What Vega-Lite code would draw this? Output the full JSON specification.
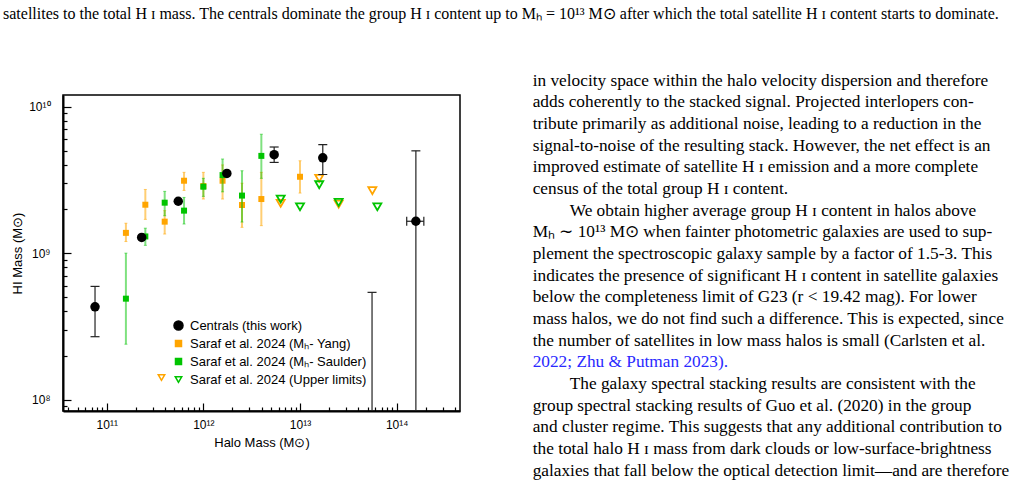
{
  "$schema": "https://vega.github.io/schema/vega-lite/v6.json",
  "background": "white",
  "padding": {"left": 3, "top": 5, "right": 0, "bottom": 0},
  "title": {
    "text": "satellites to the total H ɪ mass. The centrals dominate the group H ɪ content up to Mₕ = 10¹³ M⊙ after which the total satellite H ɪ content starts to dominate.",
    "anchor": "start", "frame": "group", "dx": -60, "offset": 50,
    "font": "Liberation Serif", "fontSize": 16, "fontWeight": "normal", "color": "black"
  },
  "bounds": "flush",
  "spacing": 72.7,
  "hconcat": [
    {
      "width": 397,
      "height": 316,
      "view": {"stroke": "black", "strokeWidth": 1.5},
      "data": {
        "values": [
          {"g": "Y", "x": 1.58e11, "y": 1.375e9, "lo": 1.2e9, "hi": 1.6e9},
          {"g": "Y", "x": 2.51e11, "y": 2.14e9, "lo": 1.7e9, "hi": 2.72e9},
          {"g": "Y", "x": 3.98e11, "y": 1.64e9, "lo": 1.35e9, "hi": 1.95e9},
          {"g": "Y", "x": 6.31e11, "y": 3.12e9, "lo": 2.68e9, "hi": 3.56e9},
          {"g": "Y", "x": 1e12, "y": 2.87e9, "lo": 2.34e9, "hi": 3.56e9},
          {"g": "Y", "x": 1.58e12, "y": 3.12e9, "lo": 2.34e9, "hi": 4.0e9},
          {"g": "Y", "x": 2.51e12, "y": 2.13e9, "lo": 1.5e9, "hi": 3.0e9},
          {"g": "Y", "x": 3.98e12, "y": 2.34e9, "lo": 1.54e9, "hi": 3.56e9},
          {"g": "Y", "x": 1e13, "y": 3.32e9, "lo": 2.57e9, "hi": 4.27e9},
          {"g": "S", "x": 1.58e11, "y": 4.89e8, "lo": 2.39e8, "hi": 1e9},
          {"g": "S", "x": 2.51e11, "y": 1.3e9, "lo": 1.13e9, "hi": 1.48e9},
          {"g": "S", "x": 3.98e11, "y": 2.21e9, "lo": 1.8e9, "hi": 2.64e9},
          {"g": "S", "x": 6.31e11, "y": 1.95e9, "lo": 1.58e9, "hi": 2.4e9},
          {"g": "S", "x": 1e12, "y": 2.84e9, "lo": 2.44e9, "hi": 3.24e9},
          {"g": "S", "x": 1.58e12, "y": 3.41e9, "lo": 2.62e9, "hi": 4.39e9},
          {"g": "S", "x": 2.51e12, "y": 2.47e9, "lo": 1.63e9, "hi": 3.65e9},
          {"g": "S", "x": 3.98e12, "y": 4.61e9, "lo": 3.24e9, "hi": 6.48e9},
          {"g": "UY", "x": 6.31e12, "y": 2.19e9},
          {"g": "UY", "x": 1.58e13, "y": 3.24e9},
          {"g": "UY", "x": 2.51e13, "y": 2.16e9},
          {"g": "UY", "x": 5.6e13, "y": 2.67e9},
          {"g": "US", "x": 6.31e12, "y": 2.34e9},
          {"g": "US", "x": 1e13, "y": 2.07e9},
          {"g": "US", "x": 1.58e13, "y": 2.93e9},
          {"g": "US", "x": 2.51e13, "y": 2.22e9},
          {"g": "US", "x": 6.31e13, "y": 2.07e9},
          {"g": "C", "x": 7.57e10, "y": 4.3e8, "lo": 2.69e8, "hi": 5.93e8},
          {"g": "C", "x": 2.3e11, "y": 1.28e9},
          {"g": "C", "x": 5.5e11, "y": 2.26e9},
          {"g": "C", "x": 1.75e12, "y": 3.5e9},
          {"g": "C", "x": 5.4e12, "y": 4.7e9, "lo": 4.16e9, "hi": 5.3e9},
          {"g": "C", "x": 1.72e13, "y": 4.47e9, "lo": 3.44e9, "hi": 5.5e9},
          {"g": "C", "x": 1.58e14, "y": 1.65e9, "lo": 1e7, "hi": 4.99e9, "xlo": 1.27e14, "xhi": 1.91e14},
          {"g": "C", "x": 5.56e13, "lo": 1e7, "hi": 5.4e8}
        ]
      },
      "resolve": {"scale": {"shape": "independent", "fill": "independent", "stroke": "independent"}},
      "layer": [
        {
          "transform": [{"filter": "datum.g == 'Y'"}],
          "mark": {"type": "rule", "color": "#ffa500", "opacity": 0.55, "strokeWidth": 2, "clip": true},
          "encoding": {
            "x": {"field": "x", "type": "quantitative", "scale": {"type": "log", "domain": [3.53e10, 4.52e14], "nice": false}, "title": "Halo Mass (M⊙)",
              "axis": {
                "values": [4e10, 5e10, 6e10, 7e10, 8e10, 9e10, 1e11, 2e11, 3e11, 4e11, 5e11, 6e11, 7e11, 8e11, 9e11, 1e12, 2e12, 3e12, 4e12, 5e12, 6e12, 7e12, 8e12, 9e12, 1e13, 2e13, 3e13, 4e13, 5e13, 6e13, 7e13, 8e13, 9e13, 1e14, 2e14, 3e14, 4e14],
                "labelExpr": "datum.value == 1e11 ? '10¹¹' : datum.value == 1e12 ? '10¹²' : datum.value == 1e13 ? '10¹³' : datum.value == 1e14 ? '10¹⁴' : ''",
                "tickSize": -8,
                "tickDash": {"condition": {"test": "indexof([1e11, 1e12, 1e13, 1e14], datum.value) < 0", "value": [4, 20]}, "value": []},
                "labelPadding": 16, "titlePadding": 6
              }},
            "y": {"field": "lo", "type": "quantitative", "scale": {"type": "log", "domain": [8.37e7, 1.2e10], "nice": false}, "title": "HI Mass (M⊙)",
              "axis": {
                "values": [9e7, 1e8, 2e8, 3e8, 4e8, 5e8, 6e8, 7e8, 8e8, 9e8, 1e9, 2e9, 3e9, 4e9, 5e9, 6e9, 7e9, 8e9, 9e9, 1e10],
                "labelExpr": "datum.value == 1e8 ? '10⁸' : datum.value == 1e9 ? '10⁹' : datum.value == 1e10 ? '10¹⁰' : ''",
                "tickSize": -8,
                "tickDash": {"condition": {"test": "indexof([1e8, 1e9, 1e10], datum.value) < 0", "value": [4, 20]}, "value": []},
                "labelPadding": 21, "titlePadding": 4
              }},
            "y2": {"field": "hi"}
          }
        },
        {
          "transform": [{"filter": "datum.g == 'Y'"}],
          "mark": {"type": "tick", "orient": "horizontal", "color": "#ffa500", "opacity": 0.55, "size": 3, "thickness": 1, "clip": true},
          "encoding": {
            "x": {"field": "x", "type": "quantitative", "scale": {"type": "log", "domain": [3.53e10, 4.52e14], "nice": false}, "title": "Halo Mass (M⊙)"},
            "y": {"field": "lo", "type": "quantitative", "scale": {"type": "log", "domain": [8.37e7, 1.2e10], "nice": false}, "title": "HI Mass (M⊙)"}
          }
        },
        {
          "transform": [{"filter": "datum.g == 'Y'"}],
          "mark": {"type": "tick", "orient": "horizontal", "color": "#ffa500", "opacity": 0.55, "size": 3, "thickness": 1, "clip": true},
          "encoding": {
            "x": {"field": "x", "type": "quantitative", "scale": {"type": "log", "domain": [3.53e10, 4.52e14], "nice": false}, "title": "Halo Mass (M⊙)"},
            "y": {"field": "hi", "type": "quantitative", "scale": {"type": "log", "domain": [8.37e7, 1.2e10], "nice": false}, "title": "HI Mass (M⊙)"}
          }
        },
        {
          "transform": [{"filter": "datum.g == 'Y'"}],
          "mark": {"type": "square", "color": "#ffa500", "size": 36, "opacity": 1, "clip": true},
          "encoding": {
            "x": {"field": "x", "type": "quantitative", "scale": {"type": "log", "domain": [3.53e10, 4.52e14], "nice": false}, "title": "Halo Mass (M⊙)"},
            "y": {"field": "y", "type": "quantitative", "scale": {"type": "log", "domain": [8.37e7, 1.2e10], "nice": false}, "title": "HI Mass (M⊙)"}
          }
        },
        {
          "transform": [{"filter": "datum.g == 'S'"}],
          "mark": {"type": "rule", "color": "#00c400", "opacity": 0.5, "strokeWidth": 2, "clip": true},
          "encoding": {
            "x": {"field": "x", "type": "quantitative", "scale": {"type": "log", "domain": [3.53e10, 4.52e14], "nice": false}, "title": "Halo Mass (M⊙)"},
            "y": {"field": "lo", "type": "quantitative", "scale": {"type": "log", "domain": [8.37e7, 1.2e10], "nice": false}, "title": "HI Mass (M⊙)"},
            "y2": {"field": "hi"}
          }
        },
        {
          "transform": [{"filter": "datum.g == 'S'"}],
          "mark": {"type": "tick", "orient": "horizontal", "color": "#00c400", "opacity": 0.5, "size": 3, "thickness": 1, "clip": true},
          "encoding": {
            "x": {"field": "x", "type": "quantitative", "scale": {"type": "log", "domain": [3.53e10, 4.52e14], "nice": false}, "title": "Halo Mass (M⊙)"},
            "y": {"field": "lo", "type": "quantitative", "scale": {"type": "log", "domain": [8.37e7, 1.2e10], "nice": false}, "title": "HI Mass (M⊙)"}
          }
        },
        {
          "transform": [{"filter": "datum.g == 'S'"}],
          "mark": {"type": "tick", "orient": "horizontal", "color": "#00c400", "opacity": 0.5, "size": 3, "thickness": 1, "clip": true},
          "encoding": {
            "x": {"field": "x", "type": "quantitative", "scale": {"type": "log", "domain": [3.53e10, 4.52e14], "nice": false}, "title": "Halo Mass (M⊙)"},
            "y": {"field": "hi", "type": "quantitative", "scale": {"type": "log", "domain": [8.37e7, 1.2e10], "nice": false}, "title": "HI Mass (M⊙)"}
          }
        },
        {
          "transform": [{"filter": "datum.g == 'S'"}],
          "mark": {"type": "square", "color": "#00c400", "size": 36, "opacity": 1, "clip": true},
          "encoding": {
            "x": {"field": "x", "type": "quantitative", "scale": {"type": "log", "domain": [3.53e10, 4.52e14], "nice": false}, "title": "Halo Mass (M⊙)"},
            "y": {"field": "y", "type": "quantitative", "scale": {"type": "log", "domain": [8.37e7, 1.2e10], "nice": false}, "title": "HI Mass (M⊙)"}
          }
        },
        {
          "transform": [{"filter": "datum.g == 'UY'"}],
          "mark": {"type": "point", "shape": "triangle-down", "filled": false, "color": "#ffa500", "size": 64, "strokeWidth": 1.8, "opacity": 1, "clip": true},
          "encoding": {
            "x": {"field": "x", "type": "quantitative", "scale": {"type": "log", "domain": [3.53e10, 4.52e14], "nice": false}, "title": "Halo Mass (M⊙)"},
            "y": {"field": "y", "type": "quantitative", "scale": {"type": "log", "domain": [8.37e7, 1.2e10], "nice": false}, "title": "HI Mass (M⊙)"}
          }
        },
        {
          "transform": [{"filter": "datum.g == 'US'"}],
          "mark": {"type": "point", "shape": "triangle-down", "filled": false, "color": "#00c400", "size": 64, "strokeWidth": 1.8, "opacity": 1, "clip": true},
          "encoding": {
            "x": {"field": "x", "type": "quantitative", "scale": {"type": "log", "domain": [3.53e10, 4.52e14], "nice": false}, "title": "Halo Mass (M⊙)"},
            "y": {"field": "y", "type": "quantitative", "scale": {"type": "log", "domain": [8.37e7, 1.2e10], "nice": false}, "title": "HI Mass (M⊙)"}
          }
        },
        {
          "transform": [{"filter": "datum.g == 'C'"}],
          "mark": {"type": "rule", "color": "#222222", "strokeWidth": 1.2, "clip": true},
          "encoding": {
            "x": {"field": "x", "type": "quantitative", "scale": {"type": "log", "domain": [3.53e10, 4.52e14], "nice": false}, "title": "Halo Mass (M⊙)"},
            "y": {"field": "lo", "type": "quantitative", "scale": {"type": "log", "domain": [8.37e7, 1.2e10], "nice": false}, "title": "HI Mass (M⊙)"},
            "y2": {"field": "hi"}
          }
        },
        {
          "transform": [{"filter": "datum.g == 'C'"}],
          "mark": {"type": "tick", "orient": "horizontal", "color": "#222222", "opacity": 1, "size": 9, "thickness": 1.2, "clip": true},
          "encoding": {
            "x": {"field": "x", "type": "quantitative", "scale": {"type": "log", "domain": [3.53e10, 4.52e14], "nice": false}, "title": "Halo Mass (M⊙)"},
            "y": {"field": "lo", "type": "quantitative", "scale": {"type": "log", "domain": [8.37e7, 1.2e10], "nice": false}, "title": "HI Mass (M⊙)"}
          }
        },
        {
          "transform": [{"filter": "datum.g == 'C'"}],
          "mark": {"type": "tick", "orient": "horizontal", "color": "#222222", "opacity": 1, "size": 9, "thickness": 1.2, "clip": true},
          "encoding": {
            "x": {"field": "x", "type": "quantitative", "scale": {"type": "log", "domain": [3.53e10, 4.52e14], "nice": false}, "title": "Halo Mass (M⊙)"},
            "y": {"field": "hi", "type": "quantitative", "scale": {"type": "log", "domain": [8.37e7, 1.2e10], "nice": false}, "title": "HI Mass (M⊙)"}
          }
        },
        {
          "transform": [{"filter": "datum.g == 'C'"}],
          "mark": {"type": "rule", "color": "#222222", "strokeWidth": 1.2, "clip": true},
          "encoding": {
            "x": {"field": "xlo", "type": "quantitative", "scale": {"type": "log", "domain": [3.53e10, 4.52e14], "nice": false}, "title": "Halo Mass (M⊙)"},
            "x2": {"field": "xhi"},
            "y": {"field": "y", "type": "quantitative", "scale": {"type": "log", "domain": [8.37e7, 1.2e10], "nice": false}, "title": "HI Mass (M⊙)"}
          }
        },
        {
          "transform": [{"filter": "datum.g == 'C'"}],
          "mark": {"type": "tick", "orient": "vertical", "color": "#222222", "opacity": 1, "size": 9, "thickness": 1.2, "clip": true},
          "encoding": {
            "x": {"field": "xlo", "type": "quantitative", "scale": {"type": "log", "domain": [3.53e10, 4.52e14], "nice": false}, "title": "Halo Mass (M⊙)"},
            "y": {"field": "y", "type": "quantitative", "scale": {"type": "log", "domain": [8.37e7, 1.2e10], "nice": false}, "title": "HI Mass (M⊙)"}
          }
        },
        {
          "transform": [{"filter": "datum.g == 'C'"}],
          "mark": {"type": "tick", "orient": "vertical", "color": "#222222", "opacity": 1, "size": 9, "thickness": 1.2, "clip": true},
          "encoding": {
            "x": {"field": "xhi", "type": "quantitative", "scale": {"type": "log", "domain": [3.53e10, 4.52e14], "nice": false}, "title": "Halo Mass (M⊙)"},
            "y": {"field": "y", "type": "quantitative", "scale": {"type": "log", "domain": [8.37e7, 1.2e10], "nice": false}, "title": "HI Mass (M⊙)"}
          }
        },
        {
          "transform": [{"filter": "datum.g == 'C'"}],
          "mark": {"type": "circle", "color": "black", "size": 90, "opacity": 1, "clip": true},
          "encoding": {
            "x": {"field": "x", "type": "quantitative", "scale": {"type": "log", "domain": [3.53e10, 4.52e14], "nice": false}, "title": "Halo Mass (M⊙)"},
            "y": {"field": "y", "type": "quantitative", "scale": {"type": "log", "domain": [8.37e7, 1.2e10], "nice": false}, "title": "HI Mass (M⊙)"}
          }
        },
        {
          "data": {"values": [
            {"entry": "Centrals (this work)"},
            {"entry": "Saraf et al. 2024 (Mₕ- Yang)"},
            {"entry": "Saraf et al. 2024 (Mₕ- Saulder)"},
            {"entry": "Saraf et al. 2024 (Upper limits)"}
          ]},
          "mark": {"type": "point", "opacity": 0, "strokeWidth": 1.5},
          "encoding": {
            "shape": {"field": "entry", "type": "nominal", "sort": null,
              "scale": {"domain": ["Centrals (this work)", "Saraf et al. 2024 (Mₕ- Yang)", "Saraf et al. 2024 (Mₕ- Saulder)", "Saraf et al. 2024 (Upper limits)"], "range": ["circle", "square", "square", "triangle-down"]},
              "legend": {"orient": "none", "legendX": 109, "legendY": 224, "title": null, "symbolOpacity": 1, "labelLimit": 0, "labelOffset": 5,
                "encode": {"symbols": {"update": {"size": {"signal": "datum.index === 0 ? 81 : datum.index === 3 ? 42 : 36"}}}}}},
            "fill": {"field": "entry", "type": "nominal", "sort": null,
              "scale": {"domain": ["Centrals (this work)", "Saraf et al. 2024 (Mₕ- Yang)", "Saraf et al. 2024 (Mₕ- Saulder)", "Saraf et al. 2024 (Upper limits)"], "range": ["black", "#ffa500", "#00c400", "white"]},
              "legend": {"orient": "none", "legendX": 109, "legendY": 224, "title": null, "symbolOpacity": 1, "labelLimit": 0, "labelOffset": 5,
                "encode": {"symbols": {"update": {"size": {"signal": "datum.index === 0 ? 81 : datum.index === 3 ? 42 : 36"}}}}}},
            "stroke": {"field": "entry", "type": "nominal", "sort": null,
              "scale": {"domain": ["Centrals (this work)", "Saraf et al. 2024 (Mₕ- Yang)", "Saraf et al. 2024 (Mₕ- Saulder)", "Saraf et al. 2024 (Upper limits)"], "range": ["black", "#ffa500", "#00c400", "#00c400"]},
              "legend": {"orient": "none", "legendX": 109, "legendY": 224, "title": null, "symbolOpacity": 1, "labelLimit": 0, "labelOffset": 5,
                "encode": {"symbols": {"update": {"size": {"signal": "datum.index === 0 ? 81 : datum.index === 3 ? 42 : 36"}}}}}}
          }
        },
        {
          "data": {"values": [{"ul": "orange limits"}]},
          "mark": {"type": "point", "opacity": 0, "filled": false, "strokeWidth": 1.5},
          "encoding": {
            "shape": {"field": "ul", "type": "nominal", "scale": {"range": ["triangle-down"]},
              "legend": {"orient": "none", "legendX": 92, "legendY": 276, "title": null, "labelExpr": "''", "symbolOpacity": 1, "symbolSize": 42}},
            "stroke": {"field": "ul", "type": "nominal", "scale": {"range": ["#ffa500"]},
              "legend": {"orient": "none", "legendX": 92, "legendY": 276, "title": null, "labelExpr": "''", "symbolOpacity": 1, "symbolSize": 42}}
          }
        }
      ]
    },
    {
      "width": 480,
      "height": 390,
      "view": {"stroke": null},
      "data": {
        "values": [
          {"line": 1, "text": "in velocity space within the halo velocity dispersion and therefore"},
          {"line": 2, "text": "adds coherently to the stacked signal. Projected interlopers con-"},
          {"line": 3, "text": "tribute primarily as additional noise, leading to a reduction in the"},
          {"line": 4, "text": "signal-to-noise of the resulting stack. However, the net effect is an"},
          {"line": 5, "text": "improved estimate of satellite H ɪ emission and a more complete"},
          {"line": 6, "text": "census of the total group H ɪ content."},
          {"line": 7, "text": "We obtain higher average group H ɪ content in halos above"},
          {"line": 8, "text": "Mₕ ∼ 10¹³ M⊙ when fainter photometric galaxies are used to sup-"},
          {"line": 9, "text": "plement the spectroscopic galaxy sample by a factor of 1.5-3. This"},
          {"line": 10, "text": "indicates the presence of significant H ɪ content in satellite galaxies"},
          {"line": 11, "text": "below the completeness limit of G23 (r < 19.42 mag). For lower"},
          {"line": 12, "text": "mass halos, we do not find such a difference. This is expected, since"},
          {"line": 13, "text": "the number of satellites in low mass halos is small (Carlsten et al."},
          {"line": 14, "text": "2022; Zhu & Putman 2023)."},
          {"line": 15, "text": "The galaxy spectral stacking results are consistent with the"},
          {"line": 16, "text": "group spectral stacking results of Guo et al. (2020) in the group"},
          {"line": 17, "text": "and cluster regime. This suggests that any additional contribution to"},
          {"line": 18, "text": "the total halo H ɪ mass from dark clouds or low-surface-brightness"},
          {"line": 19, "text": "galaxies that fall below the optical detection limit—and are therefore"}
        ]
      },
      "mark": {"type": "text", "align": "left", "baseline": "middle", "font": "Liberation Serif", "fontSize": 17.3, "dy": -14.2,
        "dx": {"expr": "(datum.line == 7 || datum.line == 15) ? 37 : 0"}},
      "encoding": {
        "x": {"value": 0},
        "y": {"field": "line", "type": "ordinal", "scale": {"type": "point", "padding": 0}, "axis": null},
        "text": {"field": "text"},
        "color": {"condition": {"test": "datum.line == 14", "value": "#2a2aff"}, "value": "black"}
      }
    }
  ],
  "config": {
    "view": {"stroke": null},
    "axis": {
      "domainColor": "black", "domainWidth": 2, "tickColor": "black", "tickWidth": 1.2,
      "labelFont": "Liberation Sans", "labelFontSize": 12, "labelColor": "black",
      "titleFont": "Liberation Sans", "titleFontSize": 13, "titleFontWeight": "normal", "titleColor": "black",
      "grid": false, "labelOverlap": false, "labelFlush": false
    },
    "legend": {
      "labelFont": "Liberation Sans", "labelFontSize": 13, "labelColor": "black", "labelLimit": 0,
      "padding": 0, "rowPadding": 4, "labelOffset": 5, "symbolStrokeWidth": 1.5
    }
  }
}
